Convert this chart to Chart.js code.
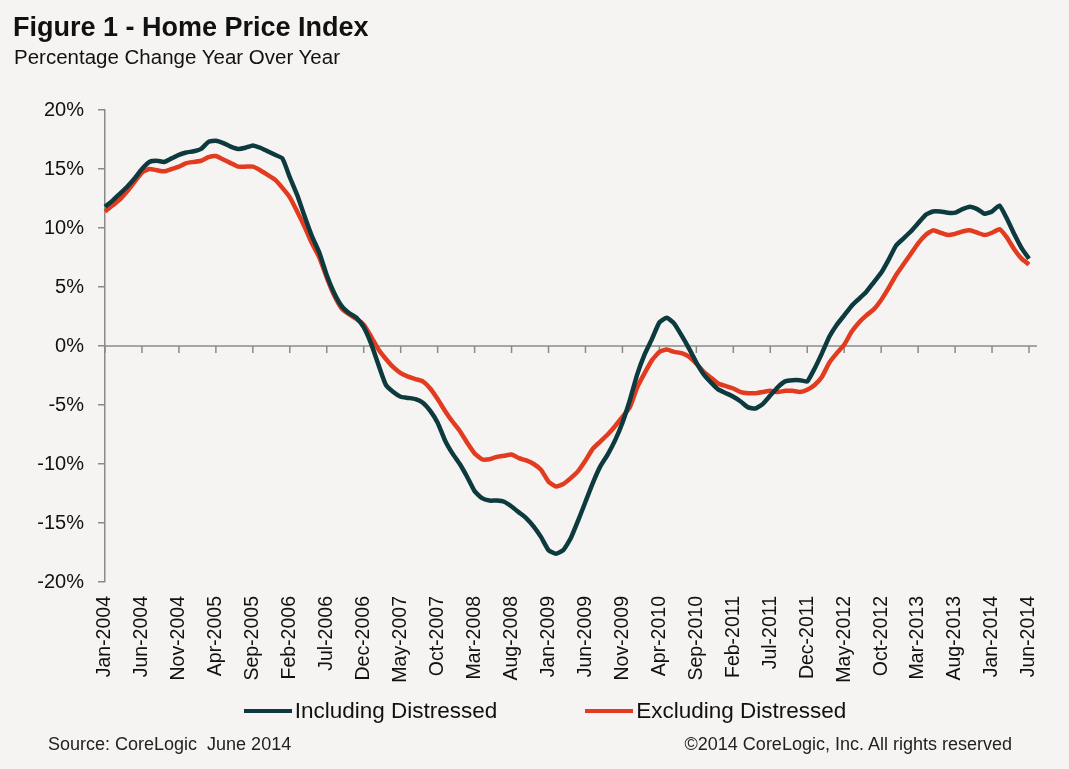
<!DOCTYPE html>
<html>
<head>
<meta charset="utf-8">
<title>Figure 1 - Home Price Index</title>
<script src="https://cdn.jsdelivr.net/npm/chart.js@4.4.1/dist/chart.umd.min.js"></script>
<style>
    html, body { margin: 0; padding: 0; background: #f5f4f2; }
    body { width: 1069px; height: 769px; position: relative; overflow: hidden;
           font-family: "Liberation Sans", Arial, sans-serif; color: #111; }
    #wrap { position: absolute; left: 0; top: 0; width: 1069px; height: 769px; }
    .txt { position: absolute; white-space: nowrap; }
    #title { left: 13px; top: 14px; font-size: 27px; line-height: 27px; font-weight: bold; }
    #subtitle { left: 14px; top: 47px; font-size: 20.5px; line-height: 20px; }
    #source { left: 48px; top: 735px; font-size: 18px; line-height: 18px; color: #222; }
    #rights { right: 57px; top: 735px; font-size: 18px; line-height: 18px; color: #222; }
    #legend { position: absolute; left: 0; width: 1090px; top: 697px; height: 28px;
              display: flex; justify-content: center; align-items: center; gap: 88px; }
    #legend .item { display: flex; align-items: center; font-size: 22.5px; }
    #legend .swatch { width: 48px; height: 4px; margin-right: 3px; }
</style>
</head>
<body>
<div id="wrap"><canvas id="hpiChart"></canvas></div>
<div class="txt" id="title">Figure 1 - Home Price Index</div>
<div class="txt" id="subtitle">Percentage Change Year Over Year</div>
<div id="legend"></div>
<div class="txt" id="source">Source: CoreLogic&nbsp; June 2014</div>
<div class="txt" id="rights">©2014 CoreLogic, Inc. All rights reserved</div>
<script>
// month labels Jan-2004 .. Jun-2014
const monthNames = ['Jan', 'Feb', 'Mar', 'Apr', 'May', 'Jun', 'Jul', 'Aug', 'Sep', 'Oct', 'Nov', 'Dec'];
const startYear = 2004;
const monthCount = 126;
const labelEvery = 5;

// year over year % change
const includingDistressed = [
    11.8, 12.3, 12.9, 13.5, 14.2, 15.0, 15.6, 15.7, 15.6, 15.9,
    16.2, 16.4, 16.5, 16.7, 17.3, 17.4, 17.2, 16.9, 16.7, 16.8,
    17.0, 16.8, 16.5, 16.2, 15.9, 14.3, 12.8, 11.0, 9.3, 7.9,
    6.0, 4.5, 3.4, 2.8, 2.4, 1.6, 0.2, -1.6, -3.3, -3.9,
    -4.3, -4.4, -4.5, -4.8, -5.5, -6.5, -8.0, -9.1, -10.0, -11.1,
    -12.3, -12.9, -13.1, -13.1, -13.2, -13.6, -14.1, -14.6, -15.3, -16.2,
    -17.3, -17.6, -17.3, -16.3, -14.8, -13.2, -11.6, -10.2, -9.2, -8.0,
    -6.5, -4.6, -2.4, -0.7, 0.6, 2.0, 2.4, 1.9, 0.9, -0.2,
    -1.4, -2.4, -3.1, -3.7, -4.0, -4.3, -4.7, -5.2, -5.3, -4.9,
    -4.2, -3.5, -3.0, -2.9, -2.9, -3.0, -1.9, -0.6, 0.8, 1.8,
    2.6, 3.4, 4.0, 4.6, 5.4, 6.2, 7.3, 8.5, 9.1, 9.7,
    10.4, 11.1, 11.4, 11.4, 11.3, 11.3, 11.6, 11.8, 11.6, 11.2,
    11.4, 11.9, 10.8, 9.5, 8.3, 7.4
];
const excludingDistressed = [
    11.4, 11.9, 12.4, 13.1, 13.9, 14.7, 15.0, 14.9, 14.8, 15.0,
    15.2, 15.5, 15.6, 15.7, 16.0, 16.1, 15.8, 15.5, 15.2, 15.2,
    15.2, 14.9, 14.5, 14.1, 13.4, 12.6, 11.4, 10.1, 8.7, 7.5,
    5.8, 4.3, 3.2, 2.7, 2.3, 1.8, 0.8, -0.3, -1.1, -1.8,
    -2.3, -2.6, -2.8, -3.0, -3.6, -4.5, -5.5, -6.4, -7.2, -8.2,
    -9.1, -9.6, -9.6, -9.4, -9.3, -9.2, -9.5, -9.7, -10.0, -10.5,
    -11.5, -11.9, -11.7, -11.2, -10.6, -9.7, -8.7, -8.1, -7.5, -6.8,
    -6.0, -5.2, -3.5, -2.3, -1.2, -0.5, -0.3, -0.5, -0.6, -0.9,
    -1.5, -2.2, -2.7, -3.2, -3.4, -3.6, -3.9, -4.0, -4.0, -3.9,
    -3.8, -3.9, -3.8, -3.8, -3.9, -3.7, -3.3, -2.6, -1.4, -0.6,
    0.1, 1.2, 2.0, 2.6, 3.1, 3.9, 4.9, 6.0, 6.9, 7.8,
    8.7, 9.4, 9.8, 9.6, 9.4, 9.5, 9.7, 9.8, 9.6, 9.4,
    9.6, 9.9, 9.2, 8.2, 7.4, 6.9
];

const yMin = -20;
const yMax = 20;
const yStep = 5;

const tealColor = '#0c3a3e';
const redColor = '#e23b1f';
const axisColor = '#8a8a8a';

const labels = [];
for (let i = 0; i < monthCount; i++) {
    labels.push(monthNames[i % 12] + '-' + (startYear + Math.floor(i / 12)));
}

Chart.defaults.font.family = '"Liberation Sans", Arial, sans-serif';
Chart.defaults.color = '#111';

// zero line with small downward ticks, drawn under the lines
const zeroAxisPlugin = {
    id: 'zeroAxis',
    beforeDatasetsDraw(chart) {
        const { ctx, chartArea, scales } = chart;
        const y0 = scales.y.getPixelForValue(0);
        ctx.save();
        ctx.strokeStyle = axisColor;
        ctx.lineWidth = 1.5;
        ctx.beginPath();
        ctx.moveTo(chartArea.left, y0);
        ctx.lineTo(chartArea.right + 8, y0);
        for (let i = 0; i < labels.length; i += labelEvery) {
            const x = scales.x.getPixelForValue(i);
            ctx.moveTo(x, y0);
            ctx.lineTo(x, y0 + 7);
        }
        ctx.stroke();
        ctx.restore();
    }
};

// legend built from the chart's datasets
const htmlLegendPlugin = {
    id: 'htmlLegend',
    afterUpdate(chart) {
        const box = document.getElementById('legend');
        box.innerHTML = '';
        chart.data.datasets.forEach(ds => {
            const item = document.createElement('div');
            item.className = 'item';
            const swatch = document.createElement('span');
            swatch.className = 'swatch';
            swatch.style.background = ds.borderColor;
            const text = document.createElement('span');
            text.textContent = ds.label;
            item.appendChild(swatch);
            item.appendChild(text);
            box.appendChild(item);
        });
    }
};

const ctx = document.getElementById('hpiChart');
new Chart(ctx, {
    type: 'line',
    data: {
        labels: labels,
        datasets: [{
            label: 'Including Distressed',
            data: includingDistressed,
            borderColor: tealColor,
            backgroundColor: tealColor,
            borderWidth: 4.5,
            pointRadius: 0,
            tension: 0.15
        }, {
            label: 'Excluding Distressed',
            data: excludingDistressed,
            borderColor: redColor,
            backgroundColor: redColor,
            borderWidth: 4.5,
            pointRadius: 0,
            tension: 0.15
        }]
    },
    options: {
        responsive: true,
        maintainAspectRatio: false,
        animation: false,
        layout: {
            padding: { top: 110, left: 0, right: 40, bottom: 77 }
        },
        plugins: {
            tooltip: { enabled: false },
            legend: { display: false }
        },
        scales: {
            x: {
                type: 'category',
                grid: { display: false, drawTicks: false },
                border: { display: false },
                ticks: {
                    autoSkip: false,
                    minRotation: 90,
                    maxRotation: 90,
                    padding: 14,
                    color: '#111',
                    font: { size: 19.5 },
                    callback: function (value, index) {
                        return index % labelEvery === 0 ? labels[index] : null;
                    }
                },
                afterFit: (scale) => { scale.height = 110; }
            },
            y: {
                min: yMin,
                max: yMax,
                grid: {
                    drawOnChartArea: false,
                    drawTicks: true,
                    tickLength: 7,
                    color: axisColor,
                    lineWidth: 1.5
                },
                border: { display: true, color: axisColor, width: 1.5 },
                ticks: {
                    stepSize: yStep,
                    padding: 14,
                    color: '#111',
                    font: { size: 20 },
                    callback: (v) => v + '%'
                },
                afterFit: (scale) => { scale.width = 105; }
            }
        }
    },
    plugins: [zeroAxisPlugin, htmlLegendPlugin]
});
</script>
</body>
</html>
